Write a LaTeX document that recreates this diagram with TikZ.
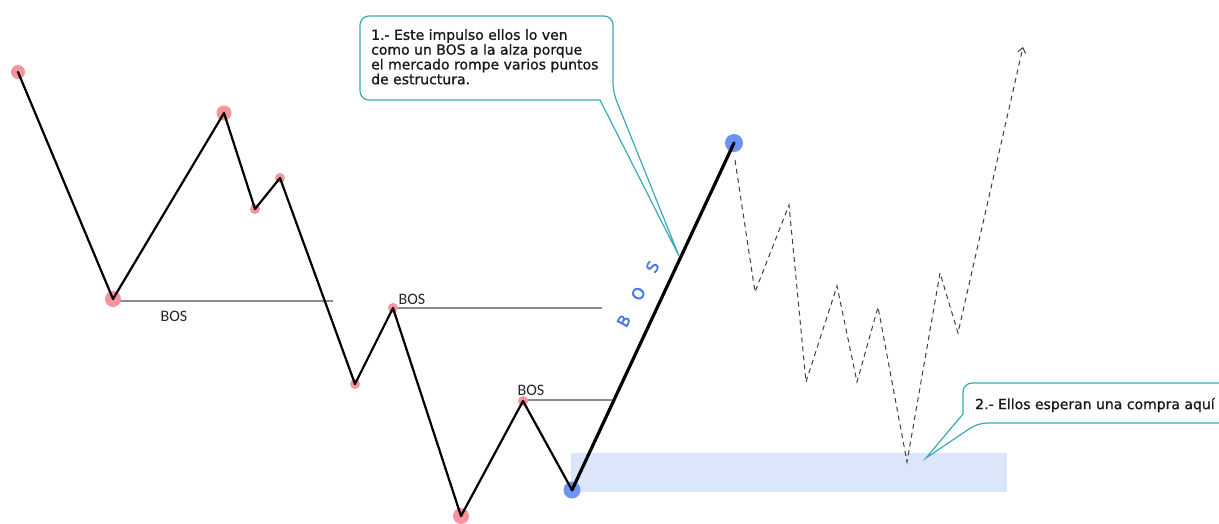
\documentclass[tikz,border=0pt]{standalone}
\usepackage{fontspec}
\setmainfont{DejaVu Sans}
\newfontfamily\calloutfont[FakeBold=1.0]{DejaVu Sans}
\newfontfamily\bluefont[FakeBold=2.0]{DejaVu Sans}
\newfontfamily\bosfont{Carlito}
\usetikzlibrary{arrows.meta}
\definecolor{dotred}{RGB}{246,148,158}
\definecolor{dotblue}{RGB}{108,148,245}
\definecolor{zone}{RGB}{220,230,251}
\definecolor{callteal}{RGB}{58,170,184}
\definecolor{bosgray}{RGB}{140,140,140}
\definecolor{bosblue}{RGB}{70,120,235}
\tikzset{
  price/.style={line width=2.2pt, black, line join=round, line cap=round},
  impulse/.style={line width=3.2pt, black, line cap=round},
  bosline/.style={line width=1.6pt, bosgray},
  proj/.style={line width=1pt, black!75, dash pattern=on 5pt off 4pt, -{Straight Barb[length=5pt,width=8pt]}},
  callbox/.style={draw=callteal, line width=1.2pt, fill=white},
  calltext/.style={font=\calloutfont\fontsize{14}{14.8}\selectfont, text=black!90, align=left, inner sep=0pt},
  boslabel/.style={font=\bosfont\fontsize{16}{18}\selectfont, text=black!85, inner sep=0pt},
}
\begin{document}
\begin{tikzpicture}[x=1pt,y=-1pt]
\useasboundingbox (0,0) rectangle (1219,523);
% points
\coordinate (p1) at (18,72);
\coordinate (p2) at (113,299);
\coordinate (p3) at (224,113);
\coordinate (p4) at (255,209);
\coordinate (p5) at (280,178);
\coordinate (p6) at (355,384);
\coordinate (p7) at (393,308);
\coordinate (p8) at (461,516);
\coordinate (p9) at (523,401);
\coordinate (p10) at (572,490);
\coordinate (p11) at (734,143);
% projection points
\coordinate (d0) at (735,160);
\coordinate (d1) at (755,292);
\coordinate (d2) at (789,205);
\coordinate (d3) at (806,382);
\coordinate (d4) at (837,286);
\coordinate (d5) at (857,382);
\coordinate (d6) at (878,307);
\coordinate (d7) at (907,462);
\coordinate (d8) at (940,273);
\coordinate (d9) at (958,333);
\coordinate (d10) at (1023,47);
% zone
\coordinate (z1) at (571,453);
\coordinate (z2) at (1007,492);
\fill[zone] (z1) rectangle (z2);
% BOS lines
\coordinate (b1s) at (113,301);
\coordinate (b1e) at (333,301);
\coordinate (b2s) at (393,308);
\coordinate (b2e) at (602,308);
\coordinate (b3s) at (523,400);
\coordinate (b3e) at (612,400);
\draw[bosline] (b1s) -- (b1e);
\draw[bosline] (b2s) -- (b2e);
\draw[bosline] (b3s) -- (b3e);
\node[boslabel] (l1) at (174,316) {BOS};
\node[boslabel] (l2) at (412,299) {BOS};
\node[boslabel] (l3) at (531,390) {BOS};
% dots
\fill[dotred] (p1) circle (7);
\fill[dotred] (p2) circle (8);
\fill[dotred] (p3) circle (7.5);
\fill[dotred] (p4) circle (5);
\fill[dotred] (p5) circle (5);
\fill[dotred] (p6) circle (5);
\fill[dotred] (p7) circle (5);
\fill[dotred] (p8) circle (8);
\fill[dotred] (p9) circle (5);
\fill[dotblue] (p10) circle (8.5);
\fill[dotblue] (p11) circle (9);
% price path
\draw[price] (p1) -- (p2) -- (p3) -- (p4) -- (p5) -- (p6) -- (p7) -- (p8) -- (p9) -- (p10);
\draw[impulse] (p10) -- (p11);
% projection
\draw[proj] (d0) -- (d1) -- (d2) -- (d3) -- (d4) -- (d5) -- (d6) -- (d7) -- (d8) -- (d9) -- (d10);
% blue BOS
\node[font=\bluefont\fontsize{16}{18}\selectfont, text=bosblue, rotate=62, inner sep=0pt] (bb) at (638,294) {B\hspace{19pt}O\hspace{19pt}S};
% callout 1
\coordinate (c1tip) at (679,256);
\coordinate (c1a) at (600,100);
\coordinate (c1b) at (360,100);
\coordinate (c1c) at (360,16);
\coordinate (c1d) at (613,16);
\coordinate (c1e) at (613,92);
\draw[callbox] (c1tip) -- (c1a) [rounded corners=9pt] -- (c1b) -- (c1c) -- (c1d) -- (c1e) [sharp corners] -- cycle;
\node[calltext, anchor=north west] (t1) at (371,29) {1.- Este impulso ellos lo ven\\como un BOS a la alza porque\\el mercado rompe varios puntos\\de estructura.};
% callout 2
\coordinate (c2tip) at (926,458);
\coordinate (c2a) at (963,414);
\coordinate (c2b) at (963,383);
\coordinate (c2c) at (1232,383);
\coordinate (c2d) at (1232,423);
\coordinate (c2e) at (978,423);
\draw[callbox] (c2tip) -- (c2a) [rounded corners=9pt] -- (c2b) -- (c2c) -- (c2d) -- (c2e) [sharp corners] -- cycle;
\node[calltext, anchor=west] (t2) at (975,405) {2.- Ellos esperan una compra aquí};
\end{tikzpicture}
\end{document}
